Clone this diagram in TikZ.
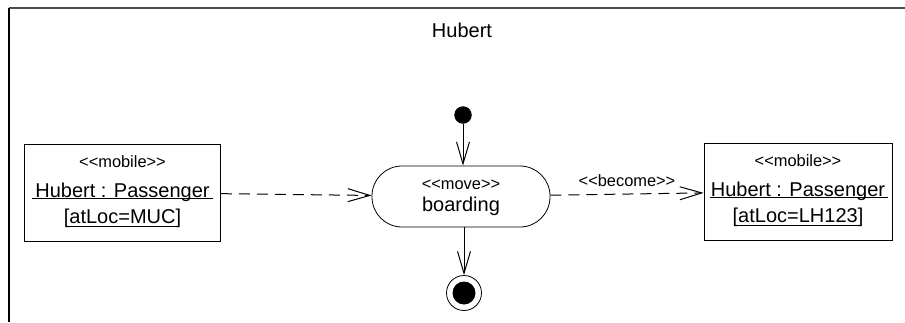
\documentclass[tikz,border=0pt]{standalone}
\usepackage{fontspec}
\setmainfont{Liberation Sans}
\usetikzlibrary{arrows.meta}
\tikzset{
  objbox/.style={draw, minimum width=98pt, minimum height=48.5pt, inner sep=0pt},
  actbox/.style={draw, rounded corners=15pt, minimum width=89pt, minimum height=30.5pt, inner sep=0pt},
  stereo/.style={font=\fontsize{8.2}{9}\selectfont},
  flow/.style={draw, line width=0.5pt, -{Straight Barb[length=11pt,width=6.5pt]}},
  objflow/.style={flow, dash pattern=on 5.5pt off 3.5pt},
}
\begin{document}
\begin{tikzpicture}[x=0.5pt,y=-0.5pt]
\useasboundingbox (0,0) rectangle (905,322);

% partition
\path[draw,line width=1.2pt,black!70] (9,8) -- (905,8);
\path[draw,thick] (9,8) -- (9,322);
\node (lane) at (462,30) {Hubert};

% object nodes
\node[objbox] (muc) at (122.5,192.5) {};
\node[stereo] (muc-st) at (122.5,162) {{<}{<}mobile{>}{>}};
\node (muc-nm) at (122.5,192) {Hubert : Passenger};
\node (muc-st2) at (122.5,218) {[\underline{atLoc=MUC}]};
\path[draw] (32,198) -- (213,198);

\node[objbox, minimum width=94pt] (lh) at (798,191.5) {};
\node[stereo] (lh-st) at (798,161) {{<}{<}mobile{>}{>}};
\node (lh-nm) at (798,191) {Hubert : Passenger};
\node (lh-st2) at (798,217) {[\underline{atLoc=LH123}]};
\path[draw] (710,197) -- (888,197);

% action
\node[actbox] (board) at (461,196.5) {};
\node[stereo] (board-st) at (461,185) {{<}{<}move{>}{>}};
\node (board-nm) at (461,206) {boarding};

% initial and final
\node[draw, circle, fill, minimum size=8.3pt, inner sep=0pt] (start) at (463,115) {};
\node[draw, circle, minimum size=17.5pt, inner sep=0pt] (stop) at (464,293) {};
\node[circle, fill, minimum size=11.5pt, inner sep=0pt] (stop-in) at (464,293) {};

\path[flow] (start) -- (start |- board.north);
\path[flow] (board.south -| stop) -- (stop);
\path[objflow] (muc) -- (board);
\path[objflow] (board) -- node[stereo, above] (become) {{<}{<}become{>}{>}} (lh);
\end{tikzpicture}
\end{document}
